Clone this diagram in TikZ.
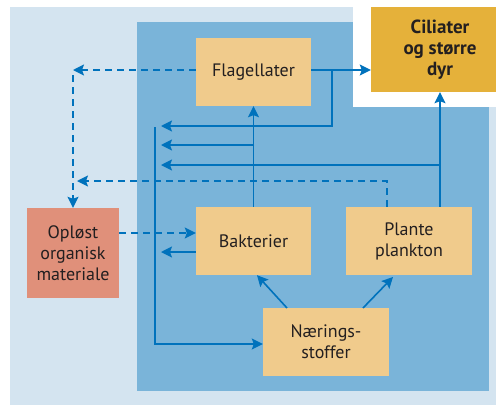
\documentclass[tikz,border=0pt]{standalone}
\usepackage{fontspec}
\setmainfont{PT Sans}
\usetikzlibrary{arrows.meta}

\definecolor{lightbg}{RGB}{212,228,240}
\definecolor{darkbg}{RGB}{122,180,217}
\definecolor{flow}{RGB}{0,114,188}
\definecolor{boxfill}{RGB}{240,203,140}
\definecolor{cilfill}{RGB}{229,177,58}
\definecolor{oplfill}{RGB}{224,144,122}
\definecolor{ink}{RGB}{35,31,32}

\tikzset{
	box/.style = {fill = boxfill, text = ink, align = center, inner sep = 0pt,
		minimum width = 115pt, minimum height = 68pt,
		font = \fontsize{18}{21}\selectfont},
	flowline/.style = {flow, line width = 1.6pt},
	dashline/.style = {flowline, dash pattern = on 7pt off 5pt}
}

\begin{document}
\begin{tikzpicture}[x = 1pt, y = -1pt, > = {Stealth[length = 11pt, width = 11pt, inset = 2pt]}]

	\useasboundingbox (0, 0) rectangle (496, 405);

	% Backgrounds
	
	\fill [lightbg] (10, 7) rectangle (500, 405);
	\fill [darkbg] (137, 22) rectangle (489, 391);
	\fill [white] (353, -5) rectangle (500, 107);
	
	% Boxes
	
	\node [box] (flag) at (253.5, 72) {Flagellater};
	\node [box, fill = cilfill, minimum width = 138pt, minimum height = 85pt,
		font = \fontsize{19}{21}\selectfont\bfseries] (cil) at (440, 49.5) {Ciliater\\og større\\dyr};
	\node [box] (bakt) at (253.5, 241) {Bakterier};
	\node [box, minimum width = 126pt] (plank) at (409, 241) {Plante\\plankton};
	\node [box, minimum width = 126pt] (naer) at (326, 342) {Nærings-\\stoffer};
	\node [box, fill = oplfill, minimum width = 92pt, minimum height = 90pt] (opl) at (73, 253) {Opløst\\organisk\\materiale};
	
	% Solid flows
	
	\coordinate (fork) at (332, 70);
	\coordinate (riser) at (155, 127);
	\coordinate (corner) at (155, 344);
	
	\draw [flowline, ->] (flag.east |- fork) -- (cil.west |- fork);
	\draw [flowline, ->] (fork) -- (332, 126) -- (161, 126);
	\draw [flowline, ->] (bakt.north) -- (flag.south);
	\draw [flowline, ->] (254, 145) -- (161, 145);
	\draw [flowline, ->] (plank.north -| cil.south) -- (cil.south);
	\draw [flowline, ->] (440, 165) -- (161, 165);
	\draw [flowline, ->] (bakt.west |- 0, 252) -- (161, 252);
	\draw [flowline, ->] (riser) -- (corner) -- (naer.west |- corner);
	\draw [flowline, ->] (287, 308) -- (bakt.south -| 257, 0);
	\draw [flowline, ->] (363, 308) -- (393, 277);
	
	% Dashed flows
	
	\draw [dashline, ->] (flag.west |- fork) -- (73, 70);
	\draw [dashline, ->] (73, 75) -- (opl.north);
	\draw [dashline, ->] (plank.north -| 387, 0) -- (387, 181) -- (77, 181);
	\draw [dashline, ->] (opl.east |- 0, 233) -- (bakt.west |- 0, 233);

\end{tikzpicture}
\end{document}
